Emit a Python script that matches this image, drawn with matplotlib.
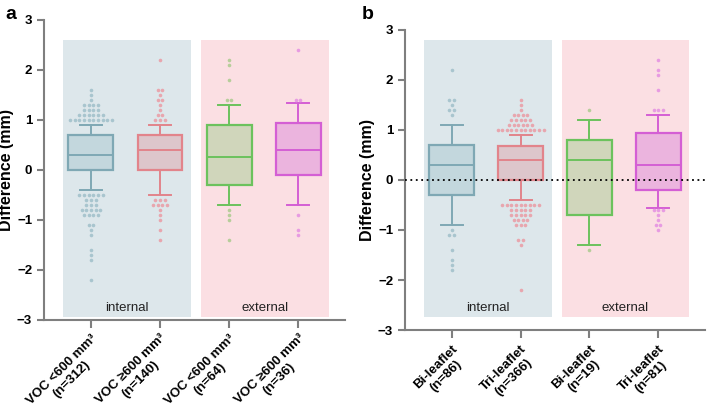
import matplotlib.pyplot as plt
from matplotlib.patches import Rectangle

plt.rcParams['font.family'] = ['Liberation Sans', 'DejaVu Sans']

# ---- panel a : VOC groups
a_labels = ['VOC <600 mm³\n(n=312)', 'VOC ≥600 mm³\n(n=140)',
            'VOC <600 mm³\n(n=64)', 'VOC ≥600 mm³\n(n=36)']
a_whislo = [-0.4, -0.5, -0.7, -0.7]
a_q1 = [0.0, 0.0, -0.3, -0.1]
a_med = [0.3, 0.4, 0.25, 0.4]
a_q3 = [0.7, 0.7, 0.9, 0.93]
a_whishi = [0.9, 0.9, 1.3, 1.33]
# outliers: value -> number of dots
a_fliers = [
    {1.6: 1, 1.5: 1, 1.4: 1, 1.3: 4, 1.2: 4, 1.1: 6, 1.0: 10,
     -0.5: 6, -0.6: 3, -0.7: 3, -0.8: 5, -0.9: 4, -1.1: 2, -1.2: 1, -1.3: 1,
     -1.6: 1, -1.7: 1, -1.8: 1, -2.2: 1},
    {2.2: 1, 1.6: 2, 1.5: 1, 1.4: 2, 1.3: 1, 1.2: 1, 1.1: 2, 1.0: 3,
     -0.6: 3, -0.7: 4, -0.8: 1, -0.9: 1, -1.0: 1, -1.2: 1, -1.4: 1},
    {2.2: 1, 2.1: 1, 1.8: 1, 1.4: 2, -0.8: 1, -0.9: 1, -1.0: 1, -1.4: 1},
    {2.4: 1, 1.4: 2, -0.9: 1, -1.2: 1, -1.3: 1},
]

# ---- panel b : leaflet groups
b_labels = ['Bi-leaflet\n(n=86)', 'Tri-leaflet\n(n=366)',
            'Bi-leaflet\n(n=19)', 'Tri-leaflet\n(n=81)']
b_whislo = [-0.9, -0.4, -1.3, -0.57]
b_q1 = [-0.3, 0.0, -0.7, -0.2]
b_med = [0.3, 0.4, 0.4, 0.3]
b_q3 = [0.7, 0.68, 0.8, 0.93]
b_whishi = [1.1, 0.9, 1.2, 1.3]
b_fliers = [
    {2.2: 1, 1.6: 2, 1.5: 1, 1.4: 2, 1.3: 1,
     -1.0: 1, -1.1: 2, -1.4: 1, -1.6: 1, -1.7: 1, -1.8: 1},
    {1.6: 1, 1.5: 1, 1.4: 1, 1.3: 4, 1.2: 5, 1.1: 6, 1.0: 11,
     -0.5: 9, -0.6: 5, -0.7: 5, -0.8: 4, -0.9: 3, -1.2: 2, -1.3: 1, -2.2: 1},
    {1.4: 1, -1.4: 1},
    {2.4: 1, 2.2: 1, 2.1: 1, 1.8: 1, 1.4: 3,
     -0.6: 3, -0.7: 1, -0.8: 1, -0.9: 2, -1.0: 1},
]

group_names = ['internal', 'external']

edge_cols = ['#7fa8b4', '#e2848b', '#6cc25d', '#d45fd4']
face_cols = ['#c3d7dd', '#ddc6cb', '#d0d6bb', '#ebb4de']
dot_cols = ['#a8c5ce', '#e8a6ae', '#b7cd9a', '#e79be2']
bg_cols = ['#dde7eb', '#fbdfe3']


def draw_panel(ax, labels, whislo, q1, med, q3, whishi, fliers, bg_y, text_y):
    stats = []
    for i in range(len(labels)):
        stats.append({'whislo': whislo[i], 'q1': q1[i], 'med': med[i],
                      'q3': q3[i], 'whishi': whishi[i], 'fliers': []})
    pos = list(range(len(labels)))

    # shaded group backgrounds
    for g in range(2):
        x0 = pos[2 * g] - 0.40
        ax.add_patch(Rectangle((x0, bg_y[0]), 1.85, bg_y[1] - bg_y[0],
                               facecolor=bg_cols[g], edgecolor='none', zorder=0))
        ax.text(x0 + 0.925, text_y, group_names[g], ha='center', va='center',
                fontsize=9.5, color='#222222', zorder=1)

    bp = ax.bxp(stats, positions=pos, widths=0.65, capwidths=0.32,
                patch_artist=True, showfliers=False, zorder=3)
    for i in range(len(labels)):
        bp['boxes'][i].set(facecolor=face_cols[i], edgecolor=edge_cols[i], linewidth=1.6)
        bp['medians'][i].set(color=edge_cols[i], linewidth=1.4)
        for k in (2 * i, 2 * i + 1):
            bp['whiskers'][k].set(color=edge_cols[i], linewidth=1.4)
            bp['caps'][k].set(color=edge_cols[i], linewidth=1.4)

    # outlier dots stacked side by side
    sp = 0.067
    for i, fl in enumerate(fliers):
        xs, ys = [], []
        for v, n in fl.items():
            for j in range(n):
                xs.append(pos[i] + (j - (n - 1) / 2) * sp)
                ys.append(v)
        ax.plot(xs, ys, 'o', ms=2.6, color=dot_cols[i], mec='none', zorder=4)

    ax.set_xlim(-0.68, 3.68)
    ax.set_ylim(-3, 3)
    ax.set_yticks([-3, -2, -1, 0, 1, 2, 3])
    ax.set_xticks(pos)
    ax.set_xticklabels(labels, rotation=45, ha='right', rotation_mode='anchor',
                       multialignment='center', fontsize=9.5, fontweight='bold')
    for t in ax.get_yticklabels():
        t.set_fontweight('bold')
        t.set_fontsize(9.5)
    ax.set_ylabel('Difference (mm)', fontsize=11.5, fontweight='bold')
    ax.yaxis.set_label_coords(-0.10, 0.5)
    for s in ['top', 'right']:
        ax.spines[s].set_visible(False)
    for s in ['left', 'bottom']:
        ax.spines[s].set_color('#7f7f7f')
        ax.spines[s].set_linewidth(1.5)
    ax.tick_params(color='#7f7f7f', width=1.5, length=5)
    ax.tick_params(axis='x', length=6, pad=3)


fig = plt.figure(figsize=(7.07, 4.15), dpi=100)
ax1 = fig.add_axes([0.0622, 0.230, 0.426, 0.722])
ax2 = fig.add_axes([0.5728, 0.2048, 0.4243, 0.723])

draw_panel(ax1, a_labels, a_whislo, a_q1, a_med, a_q3, a_whishi, a_fliers,
           (-2.95, 2.6), -2.77)
draw_panel(ax2, b_labels, b_whislo, b_q1, b_med, b_q3, b_whishi, b_fliers,
           (-2.73, 2.8), -2.55)
ax2.axhline(0, color='black', linestyle=(0, (1, 2)), linewidth=1.3, zorder=5)

fig.text(0.008, 0.955, 'a', fontsize=14, fontweight='bold')
fig.text(0.512, 0.955, 'b', fontsize=14, fontweight='bold')

plt.savefig('out.png', dpi=100)
